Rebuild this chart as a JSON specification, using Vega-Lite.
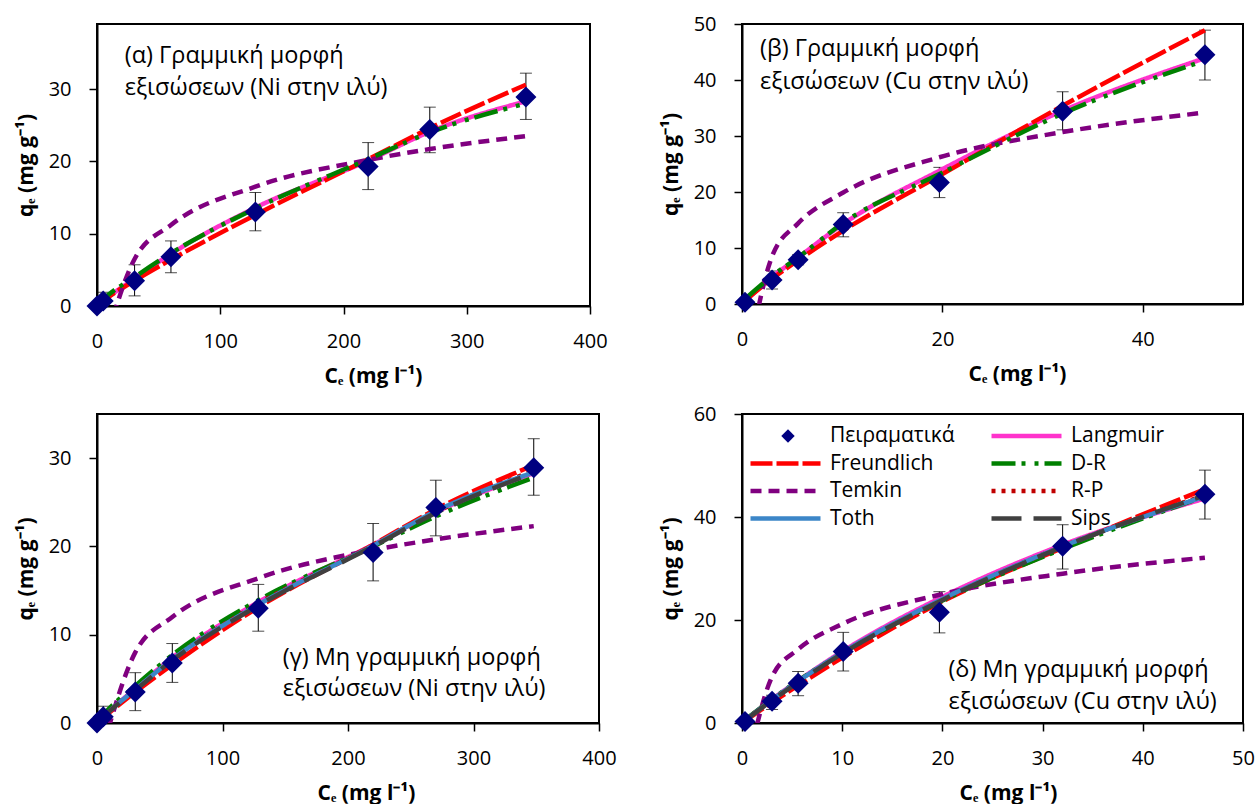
{
  "$schema": "https://vega.github.io/schema/vega-lite/v6.json",
  "background": "white",
  "padding": {"left": 14, "top": 13, "right": 0, "bottom": 0},
  "columns": 2,
  "align": "each",
  "spacing": {"row": 16, "column": 41},
  "resolve": {
    "scale": {"x": "independent", "y": "independent", "color": "independent", "strokeDash": "independent", "shape": "independent"},
    "legend": {"color": "independent", "strokeDash": "independent", "shape": "independent"}
  },
  "datasets": {
    "ni_exp": [
      {"C": 0, "q": 0, "lo": null, "hi": null, "series": "Πειραματικά"},
      {"C": 5, "q": 0.7, "lo": -0.5, "hi": 1.9, "series": "Πειραματικά"},
      {"C": 30.5, "q": 3.5, "lo": 1.4, "hi": 5.7, "series": "Πειραματικά"},
      {"C": 60, "q": 6.8, "lo": 4.6, "hi": 9.0, "series": "Πειραματικά"},
      {"C": 128.5, "q": 13.0, "lo": 10.4, "hi": 15.7, "series": "Πειραματικά"},
      {"C": 220, "q": 19.3, "lo": 16.1, "hi": 22.6, "series": "Πειραματικά"},
      {"C": 270, "q": 24.4, "lo": 21.2, "hi": 27.5, "series": "Πειραματικά"},
      {"C": 348, "q": 28.9, "lo": 25.8, "hi": 32.2, "series": "Πειραματικά"}
    ],
    "cu_exp_b": [
      {"C": 0.3, "q": 0.3, "lo": null, "hi": null, "series": "Πειραματικά"},
      {"C": 3.0, "q": 4.3, "lo": 2.7, "hi": 5.9, "series": "Πειραματικά"},
      {"C": 5.6, "q": 7.9, "lo": 7.0, "hi": 8.8, "series": "Πειραματικά"},
      {"C": 10.1, "q": 14.2, "lo": 12.0, "hi": 16.3, "series": "Πειραματικά"},
      {"C": 19.7, "q": 21.7, "lo": 19.0, "hi": 24.4, "series": "Πειραματικά"},
      {"C": 32.0, "q": 34.4, "lo": 31.1, "hi": 37.9, "series": "Πειραματικά"},
      {"C": 46.2, "q": 44.5, "lo": 40.0, "hi": 48.9, "series": "Πειραματικά"}
    ],
    "cu_exp_d": [
      {"C": 0.3, "q": 0.3, "lo": null, "hi": null, "series": "Πειραματικά"},
      {"C": 3.0, "q": 4.2, "lo": 2.6, "hi": 5.4, "series": "Πειραματικά"},
      {"C": 5.6, "q": 7.7, "lo": 5.3, "hi": 10.0, "series": "Πειραματικά"},
      {"C": 10.1, "q": 13.9, "lo": 10.1, "hi": 17.6, "series": "Πειραματικά"},
      {"C": 19.7, "q": 21.5, "lo": 17.5, "hi": 25.5, "series": "Πειραματικά"},
      {"C": 32.0, "q": 34.3, "lo": 29.9, "hi": 38.5, "series": "Πειραματικά"},
      {"C": 46.2, "q": 44.4, "lo": 39.6, "hi": 49.1, "series": "Πειραματικά"}
    ],
    "ni_lin": [
      {"model": "Langmuir", "C": 0, "q": 0}, {"model": "Langmuir", "C": 5, "q": 0.7}, {"model": "Langmuir", "C": 30.5, "q": 3.8}, {"model": "Langmuir", "C": 60, "q": 7.2}, {"model": "Langmuir", "C": 128.5, "q": 13.6}, {"model": "Langmuir", "C": 220, "q": 20.1}, {"model": "Langmuir", "C": 270, "q": 24.1}, {"model": "Langmuir", "C": 348, "q": 28.3},
      {"model": "Freundlich", "C": 0, "q": 0}, {"model": "Freundlich", "C": 5, "q": 0.7}, {"model": "Freundlich", "C": 30.5, "q": 3.5}, {"model": "Freundlich", "C": 60, "q": 6.4}, {"model": "Freundlich", "C": 128.5, "q": 12.6}, {"model": "Freundlich", "C": 220, "q": 20.3}, {"model": "Freundlich", "C": 270, "q": 24.6}, {"model": "Freundlich", "C": 348, "q": 30.6},
      {"model": "Temkin", "C": 5, "q": -6.1}, {"model": "Temkin", "C": 30.5, "q": 6.5}, {"model": "Temkin", "C": 60, "q": 11.2}, {"model": "Temkin", "C": 128.5, "q": 16.5}, {"model": "Temkin", "C": 220, "q": 20.2}, {"model": "Temkin", "C": 270, "q": 21.7}, {"model": "Temkin", "C": 348, "q": 23.5},
      {"model": "D-R", "C": 0, "q": 0}, {"model": "D-R", "C": 5, "q": 0.9}, {"model": "D-R", "C": 30.5, "q": 4.0}, {"model": "D-R", "C": 60, "q": 7.3}, {"model": "D-R", "C": 128.5, "q": 13.5}, {"model": "D-R", "C": 220, "q": 20.3}, {"model": "D-R", "C": 270, "q": 24.0}, {"model": "D-R", "C": 348, "q": 28.0}
    ],
    "cu_lin": [
      {"model": "Langmuir", "C": 0.3, "q": 0.5}, {"model": "Langmuir", "C": 3.0, "q": 4.8}, {"model": "Langmuir", "C": 5.6, "q": 8.3}, {"model": "Langmuir", "C": 10.1, "q": 14.3}, {"model": "Langmuir", "C": 19.7, "q": 23.8}, {"model": "Langmuir", "C": 32.0, "q": 34.5}, {"model": "Langmuir", "C": 46.2, "q": 43.9},
      {"model": "Freundlich", "C": 0.3, "q": 0.6}, {"model": "Freundlich", "C": 3.0, "q": 4.5}, {"model": "Freundlich", "C": 5.6, "q": 7.8}, {"model": "Freundlich", "C": 10.1, "q": 13.1}, {"model": "Freundlich", "C": 19.7, "q": 22.9}, {"model": "Freundlich", "C": 32.0, "q": 35.4}, {"model": "Freundlich", "C": 46.2, "q": 48.9},
      {"model": "Temkin", "C": 0.3, "q": -13.1}, {"model": "Temkin", "C": 3.0, "q": 8.5}, {"model": "Temkin", "C": 5.6, "q": 14.4}, {"model": "Temkin", "C": 10.1, "q": 19.9}, {"model": "Temkin", "C": 19.7, "q": 26.2}, {"model": "Temkin", "C": 32.0, "q": 30.7}, {"model": "Temkin", "C": 46.2, "q": 34.2},
      {"model": "D-R", "C": 0.3, "q": 0.9}, {"model": "D-R", "C": 3.0, "q": 5.0}, {"model": "D-R", "C": 5.6, "q": 8.3}, {"model": "D-R", "C": 10.1, "q": 14.5}, {"model": "D-R", "C": 19.7, "q": 23.2}, {"model": "D-R", "C": 32.0, "q": 34.0}, {"model": "D-R", "C": 46.2, "q": 43.5}
    ],
    "ni_nl": [
      {"model": "Langmuir", "C": 0, "q": 0}, {"model": "Langmuir", "C": 5, "q": 0.7}, {"model": "Langmuir", "C": 30.5, "q": 3.9}, {"model": "Langmuir", "C": 60, "q": 7.4}, {"model": "Langmuir", "C": 128.5, "q": 13.7}, {"model": "Langmuir", "C": 220, "q": 20.2}, {"model": "Langmuir", "C": 270, "q": 23.9}, {"model": "Langmuir", "C": 348, "q": 28.3},
      {"model": "Freundlich", "C": 0, "q": 0}, {"model": "Freundlich", "C": 5, "q": 0.6}, {"model": "Freundlich", "C": 30.5, "q": 3.5}, {"model": "Freundlich", "C": 60, "q": 6.6}, {"model": "Freundlich", "C": 128.5, "q": 13.1}, {"model": "Freundlich", "C": 220, "q": 20.2}, {"model": "Freundlich", "C": 270, "q": 24.2}, {"model": "Freundlich", "C": 348, "q": 29.2},
      {"model": "Temkin", "C": 5, "q": -2.6}, {"model": "Temkin", "C": 30.5, "q": 8.0}, {"model": "Temkin", "C": 60, "q": 12.0}, {"model": "Temkin", "C": 128.5, "q": 16.4}, {"model": "Temkin", "C": 220, "q": 19.6}, {"model": "Temkin", "C": 270, "q": 20.8}, {"model": "Temkin", "C": 348, "q": 22.3},
      {"model": "D-R", "C": 0, "q": 0}, {"model": "D-R", "C": 5, "q": 0.9}, {"model": "D-R", "C": 30.5, "q": 4.2}, {"model": "D-R", "C": 60, "q": 7.7}, {"model": "D-R", "C": 128.5, "q": 13.9}, {"model": "D-R", "C": 220, "q": 20.0}, {"model": "D-R", "C": 270, "q": 23.4}, {"model": "D-R", "C": 348, "q": 27.8},
      {"model": "R-P", "C": 0, "q": 0}, {"model": "R-P", "C": 5, "q": 0.7}, {"model": "R-P", "C": 30.5, "q": 3.8}, {"model": "R-P", "C": 60, "q": 7.2}, {"model": "R-P", "C": 128.5, "q": 13.5}, {"model": "R-P", "C": 220, "q": 20.1}, {"model": "R-P", "C": 270, "q": 23.9}, {"model": "R-P", "C": 348, "q": 28.6},
      {"model": "Toth", "C": 0, "q": 0}, {"model": "Toth", "C": 5, "q": 0.7}, {"model": "Toth", "C": 30.5, "q": 3.8}, {"model": "Toth", "C": 60, "q": 7.2}, {"model": "Toth", "C": 128.5, "q": 13.4}, {"model": "Toth", "C": 220, "q": 20.1}, {"model": "Toth", "C": 270, "q": 24.0}, {"model": "Toth", "C": 348, "q": 28.4},
      {"model": "Sips", "C": 0, "q": 0}, {"model": "Sips", "C": 5, "q": 0.7}, {"model": "Sips", "C": 30.5, "q": 3.7}, {"model": "Sips", "C": 60, "q": 7.1}, {"model": "Sips", "C": 128.5, "q": 13.3}, {"model": "Sips", "C": 220, "q": 20.0}, {"model": "Sips", "C": 270, "q": 23.8}, {"model": "Sips", "C": 348, "q": 28.3}
    ],
    "cu_nl": [
      {"model": "Langmuir", "C": 0.3, "q": 0.5}, {"model": "Langmuir", "C": 3.0, "q": 4.6}, {"model": "Langmuir", "C": 5.6, "q": 8.2}, {"model": "Langmuir", "C": 10.1, "q": 14.0}, {"model": "Langmuir", "C": 19.7, "q": 24.2}, {"model": "Langmuir", "C": 32.0, "q": 34.6}, {"model": "Langmuir", "C": 46.2, "q": 43.6},
      {"model": "Freundlich", "C": 0.3, "q": 0.4}, {"model": "Freundlich", "C": 3.0, "q": 4.0}, {"model": "Freundlich", "C": 5.6, "q": 7.3}, {"model": "Freundlich", "C": 10.1, "q": 12.8}, {"model": "Freundlich", "C": 19.7, "q": 23.3}, {"model": "Freundlich", "C": 32.0, "q": 34.0}, {"model": "Freundlich", "C": 46.2, "q": 45.4},
      {"model": "Temkin", "C": 0.3, "q": -10.5}, {"model": "Temkin", "C": 3.0, "q": 9.0}, {"model": "Temkin", "C": 5.6, "q": 14.3}, {"model": "Temkin", "C": 10.1, "q": 19.3}, {"model": "Temkin", "C": 19.7, "q": 24.9}, {"model": "Temkin", "C": 32.0, "q": 29.0}, {"model": "Temkin", "C": 46.2, "q": 32.1},
      {"model": "D-R", "C": 0.3, "q": 0.6}, {"model": "D-R", "C": 3.0, "q": 4.6}, {"model": "D-R", "C": 5.6, "q": 8.2}, {"model": "D-R", "C": 10.1, "q": 13.7}, {"model": "D-R", "C": 19.7, "q": 23.5}, {"model": "D-R", "C": 32.0, "q": 33.8}, {"model": "D-R", "C": 46.2, "q": 44.0},
      {"model": "R-P", "C": 0.3, "q": 0.5}, {"model": "R-P", "C": 3.0, "q": 4.5}, {"model": "R-P", "C": 5.6, "q": 8.0}, {"model": "R-P", "C": 10.1, "q": 13.7}, {"model": "R-P", "C": 19.7, "q": 23.7}, {"model": "R-P", "C": 32.0, "q": 34.3}, {"model": "R-P", "C": 46.2, "q": 44.2},
      {"model": "Toth", "C": 0.3, "q": 0.5}, {"model": "Toth", "C": 3.0, "q": 4.5}, {"model": "Toth", "C": 5.6, "q": 8.1}, {"model": "Toth", "C": 10.1, "q": 13.8}, {"model": "Toth", "C": 19.7, "q": 23.8}, {"model": "Toth", "C": 32.0, "q": 34.3}, {"model": "Toth", "C": 46.2, "q": 44.0},
      {"model": "Sips", "C": 0.3, "q": 0.5}, {"model": "Sips", "C": 3.0, "q": 4.4}, {"model": "Sips", "C": 5.6, "q": 7.9}, {"model": "Sips", "C": 10.1, "q": 13.6}, {"model": "Sips", "C": 19.7, "q": 23.6}, {"model": "Sips", "C": 32.0, "q": 34.2}, {"model": "Sips", "C": 46.2, "q": 44.2}
    ]
  },
  "concat": [
    {
      "width": 493, "height": 282,
      "layer": [
        {"data": {"name": "ni_exp"}, "mark": {"type": "rule", "color": "#000", "strokeWidth": 1, "clip": true},
         "encoding": {
           "x": {"field": "C", "type": "quantitative", "scale": {"domain": [0, 400], "nice": false, "zero": false}, "axis": {"values": [0, 100, 200, 300, 400], "title": "Cₑ (mg l⁻¹)", "titleX": 276}},
           "y": {"field": "lo", "type": "quantitative", "scale": {"domain": [0, 39], "nice": false, "zero": false}, "axis": {"values": [0, 10, 20, 30], "title": "qₑ (mg g⁻¹)"}},
           "y2": {"field": "hi"}}},
        {"data": {"name": "ni_exp"}, "mark": {"type": "tick", "orient": "horizontal", "color": "#000", "size": 12, "thickness": 1, "clip": true},
         "encoding": {
           "x": {"field": "C", "type": "quantitative", "scale": {"domain": [0, 400], "nice": false, "zero": false}, "axis": {"values": [0, 100, 200, 300, 400], "title": "Cₑ (mg l⁻¹)", "titleX": 276}},
           "y": {"field": "lo", "type": "quantitative", "scale": {"domain": [0, 39], "nice": false, "zero": false}, "axis": {"values": [0, 10, 20, 30], "title": "qₑ (mg g⁻¹)"}}}},
        {"data": {"name": "ni_exp"}, "mark": {"type": "tick", "orient": "horizontal", "color": "#000", "size": 12, "thickness": 1, "clip": true},
         "encoding": {
           "x": {"field": "C", "type": "quantitative", "scale": {"domain": [0, 400], "nice": false, "zero": false}, "axis": {"values": [0, 100, 200, 300, 400], "title": "Cₑ (mg l⁻¹)", "titleX": 276}},
           "y": {"field": "hi", "type": "quantitative", "scale": {"domain": [0, 39], "nice": false, "zero": false}, "axis": {"values": [0, 10, 20, 30], "title": "qₑ (mg g⁻¹)"}}}},
        {"data": {"name": "ni_lin"}, "mark": {"type": "line", "strokeWidth": 4.5, "interpolate": "monotone", "clip": true},
         "encoding": {
           "x": {"field": "C", "type": "quantitative", "scale": {"domain": [0, 400], "nice": false, "zero": false}, "axis": {"values": [0, 100, 200, 300, 400], "title": "Cₑ (mg l⁻¹)", "titleX": 276}},
           "y": {"field": "q", "type": "quantitative", "scale": {"domain": [0, 39], "nice": false, "zero": false}, "axis": {"values": [0, 10, 20, 30], "title": "qₑ (mg g⁻¹)"}},
           "color": {"field": "model", "type": "nominal", "legend": null, "scale": {"domain": ["Πειραματικά", "Freundlich", "Temkin", "Toth", "Langmuir", "D-R", "R-P", "Sips"], "range": ["transparent", "#FF0000", "#800080", "#3C86C8", "#FF33CC", "#008000", "#C00000", "#404040"]}},
           "strokeDash": {"field": "model", "type": "nominal", "legend": null, "scale": {"domain": ["Πειραματικά", "Freundlich", "Temkin", "Toth", "Langmuir", "D-R", "R-P", "Sips"], "range": [[1, 0], [22, 4], [11, 7], [1, 0], [1, 0], [24, 6, 4, 9, 4, 6], [4, 6], [30, 12]]}}
         }},
        {"data": {"name": "ni_exp"}, "mark": {"type": "point", "shape": "diamond", "filled": true, "size": 441, "color": "#000080", "opacity": 1},
         "encoding": {
           "x": {"field": "C", "type": "quantitative", "scale": {"domain": [0, 400], "nice": false, "zero": false}, "axis": {"values": [0, 100, 200, 300, 400], "title": "Cₑ (mg l⁻¹)", "titleX": 276}},
           "y": {"field": "q", "type": "quantitative", "scale": {"domain": [0, 39], "nice": false, "zero": false}, "axis": {"values": [0, 10, 20, 30], "title": "qₑ (mg g⁻¹)"}}}},
        {"data": {"values": [{"C": 22.5, "q": 34.6, "t": "(α) Γραμμική μορφή"}, {"C": 22.5, "q": 30.2, "t": "εξισώσεων (Ni στην ιλύ)"}]},
         "mark": {"type": "text", "align": "left", "baseline": "middle", "font": "Open Sans", "fontSize": 23.5, "color": "#000"},
         "encoding": {
           "x": {"field": "C", "type": "quantitative", "scale": {"domain": [0, 400], "nice": false, "zero": false}, "axis": {"values": [0, 100, 200, 300, 400], "title": "Cₑ (mg l⁻¹)", "titleX": 276}},
           "y": {"field": "q", "type": "quantitative", "scale": {"domain": [0, 39], "nice": false, "zero": false}, "axis": {"values": [0, 10, 20, 30], "title": "qₑ (mg g⁻¹)"}},
           "text": {"field": "t"}}}
      ]
    },
    {
      "width": 501, "height": 280,
      "layer": [
        {"data": {"name": "cu_exp_b"}, "mark": {"type": "rule", "color": "#000", "strokeWidth": 1, "clip": true},
         "encoding": {
           "x": {"field": "C", "type": "quantitative", "scale": {"domain": [0, 50], "nice": false, "zero": false}, "axis": {"values": [0, 20, 40], "title": "Cₑ (mg l⁻¹)", "titleX": 275}},
           "y": {"field": "lo", "type": "quantitative", "scale": {"domain": [0, 50], "nice": false, "zero": false}, "axis": {"values": [0, 10, 20, 30, 40, 50], "title": "qₑ (mg g⁻¹)"}},
           "y2": {"field": "hi"}}},
        {"data": {"name": "cu_exp_b"}, "mark": {"type": "tick", "orient": "horizontal", "color": "#000", "size": 12, "thickness": 1, "clip": true},
         "encoding": {
           "x": {"field": "C", "type": "quantitative", "scale": {"domain": [0, 50], "nice": false, "zero": false}, "axis": {"values": [0, 20, 40], "title": "Cₑ (mg l⁻¹)", "titleX": 275}},
           "y": {"field": "lo", "type": "quantitative", "scale": {"domain": [0, 50], "nice": false, "zero": false}, "axis": {"values": [0, 10, 20, 30, 40, 50], "title": "qₑ (mg g⁻¹)"}}}},
        {"data": {"name": "cu_exp_b"}, "mark": {"type": "tick", "orient": "horizontal", "color": "#000", "size": 12, "thickness": 1, "clip": true},
         "encoding": {
           "x": {"field": "C", "type": "quantitative", "scale": {"domain": [0, 50], "nice": false, "zero": false}, "axis": {"values": [0, 20, 40], "title": "Cₑ (mg l⁻¹)", "titleX": 275}},
           "y": {"field": "hi", "type": "quantitative", "scale": {"domain": [0, 50], "nice": false, "zero": false}, "axis": {"values": [0, 10, 20, 30, 40, 50], "title": "qₑ (mg g⁻¹)"}}}},
        {"data": {"name": "cu_lin"}, "mark": {"type": "line", "strokeWidth": 4.5, "interpolate": "monotone", "clip": true},
         "encoding": {
           "x": {"field": "C", "type": "quantitative", "scale": {"domain": [0, 50], "nice": false, "zero": false}, "axis": {"values": [0, 20, 40], "title": "Cₑ (mg l⁻¹)", "titleX": 275}},
           "y": {"field": "q", "type": "quantitative", "scale": {"domain": [0, 50], "nice": false, "zero": false}, "axis": {"values": [0, 10, 20, 30, 40, 50], "title": "qₑ (mg g⁻¹)"}},
           "color": {"field": "model", "type": "nominal", "legend": null, "scale": {"domain": ["Πειραματικά", "Freundlich", "Temkin", "Toth", "Langmuir", "D-R", "R-P", "Sips"], "range": ["transparent", "#FF0000", "#800080", "#3C86C8", "#FF33CC", "#008000", "#C00000", "#404040"]}},
           "strokeDash": {"field": "model", "type": "nominal", "legend": null, "scale": {"domain": ["Πειραματικά", "Freundlich", "Temkin", "Toth", "Langmuir", "D-R", "R-P", "Sips"], "range": [[1, 0], [22, 4], [11, 7], [1, 0], [1, 0], [24, 6, 4, 9, 4, 6], [4, 6], [30, 12]]}}
         }},
        {"data": {"name": "cu_exp_b"}, "mark": {"type": "point", "shape": "diamond", "filled": true, "size": 441, "color": "#000080", "opacity": 1},
         "encoding": {
           "x": {"field": "C", "type": "quantitative", "scale": {"domain": [0, 50], "nice": false, "zero": false}, "axis": {"values": [0, 20, 40], "title": "Cₑ (mg l⁻¹)", "titleX": 275}},
           "y": {"field": "q", "type": "quantitative", "scale": {"domain": [0, 50], "nice": false, "zero": false}, "axis": {"values": [0, 10, 20, 30, 40, 50], "title": "qₑ (mg g⁻¹)"}}}},
        {"data": {"values": [{"C": 1.8, "q": 45.5, "t": "(β) Γραμμική μορφή"}, {"C": 1.8, "q": 39.6, "t": "εξισώσεων (Cu στην ιλύ)"}]},
         "mark": {"type": "text", "align": "left", "baseline": "middle", "font": "Open Sans", "fontSize": 23.5, "color": "#000"},
         "encoding": {
           "x": {"field": "C", "type": "quantitative", "scale": {"domain": [0, 50], "nice": false, "zero": false}, "axis": {"values": [0, 20, 40], "title": "Cₑ (mg l⁻¹)", "titleX": 275}},
           "y": {"field": "q", "type": "quantitative", "scale": {"domain": [0, 50], "nice": false, "zero": false}, "axis": {"values": [0, 10, 20, 30, 40, 50], "title": "qₑ (mg g⁻¹)"}},
           "text": {"field": "t"}}}
      ]
    },
    {
      "width": 502, "height": 309,
      "layer": [
        {"data": {"name": "ni_exp"}, "mark": {"type": "rule", "color": "#000", "strokeWidth": 1, "clip": true},
         "encoding": {
           "x": {"field": "C", "type": "quantitative", "scale": {"domain": [0, 400], "nice": false, "zero": false}, "axis": {"values": [0, 100, 200, 300, 400], "title": "Cₑ (mg l⁻¹)", "titleX": 269}},
           "y": {"field": "lo", "type": "quantitative", "scale": {"domain": [0, 35], "nice": false, "zero": false}, "axis": {"values": [0, 10, 20, 30], "title": "qₑ (mg g⁻¹)"}},
           "y2": {"field": "hi"}}},
        {"data": {"name": "ni_exp"}, "mark": {"type": "tick", "orient": "horizontal", "color": "#000", "size": 12, "thickness": 1, "clip": true},
         "encoding": {
           "x": {"field": "C", "type": "quantitative", "scale": {"domain": [0, 400], "nice": false, "zero": false}, "axis": {"values": [0, 100, 200, 300, 400], "title": "Cₑ (mg l⁻¹)", "titleX": 269}},
           "y": {"field": "lo", "type": "quantitative", "scale": {"domain": [0, 35], "nice": false, "zero": false}, "axis": {"values": [0, 10, 20, 30], "title": "qₑ (mg g⁻¹)"}}}},
        {"data": {"name": "ni_exp"}, "mark": {"type": "tick", "orient": "horizontal", "color": "#000", "size": 12, "thickness": 1, "clip": true},
         "encoding": {
           "x": {"field": "C", "type": "quantitative", "scale": {"domain": [0, 400], "nice": false, "zero": false}, "axis": {"values": [0, 100, 200, 300, 400], "title": "Cₑ (mg l⁻¹)", "titleX": 269}},
           "y": {"field": "hi", "type": "quantitative", "scale": {"domain": [0, 35], "nice": false, "zero": false}, "axis": {"values": [0, 10, 20, 30], "title": "qₑ (mg g⁻¹)"}}}},
        {"data": {"name": "ni_nl"}, "mark": {"type": "line", "strokeWidth": 4.5, "interpolate": "monotone", "clip": true},
         "encoding": {
           "x": {"field": "C", "type": "quantitative", "scale": {"domain": [0, 400], "nice": false, "zero": false}, "axis": {"values": [0, 100, 200, 300, 400], "title": "Cₑ (mg l⁻¹)", "titleX": 269}},
           "y": {"field": "q", "type": "quantitative", "scale": {"domain": [0, 35], "nice": false, "zero": false}, "axis": {"values": [0, 10, 20, 30], "title": "qₑ (mg g⁻¹)"}},
           "color": {"field": "model", "type": "nominal", "legend": null, "scale": {"domain": ["Πειραματικά", "Freundlich", "Temkin", "Toth", "Langmuir", "D-R", "R-P", "Sips"], "range": ["transparent", "#FF0000", "#800080", "#3C86C8", "#FF33CC", "#008000", "#C00000", "#404040"]}},
           "strokeDash": {"field": "model", "type": "nominal", "legend": null, "scale": {"domain": ["Πειραματικά", "Freundlich", "Temkin", "Toth", "Langmuir", "D-R", "R-P", "Sips"], "range": [[1, 0], [22, 4], [11, 7], [1, 0], [1, 0], [24, 6, 4, 9, 4, 6], [4, 6], [30, 12]]}}
         }},
        {"data": {"name": "ni_exp"}, "mark": {"type": "point", "shape": "diamond", "filled": true, "size": 441, "color": "#000080", "opacity": 1},
         "encoding": {
           "x": {"field": "C", "type": "quantitative", "scale": {"domain": [0, 400], "nice": false, "zero": false}, "axis": {"values": [0, 100, 200, 300, 400], "title": "Cₑ (mg l⁻¹)", "titleX": 269}},
           "y": {"field": "q", "type": "quantitative", "scale": {"domain": [0, 35], "nice": false, "zero": false}, "axis": {"values": [0, 10, 20, 30], "title": "qₑ (mg g⁻¹)"}}}},
        {"data": {"values": [{"C": 148, "q": 7.4, "t": "(γ) Μη γραμμική μορφή"}, {"C": 148, "q": 3.8, "t": "εξισώσεων (Ni στην ιλύ)"}]},
         "mark": {"type": "text", "align": "left", "baseline": "middle", "font": "Open Sans", "fontSize": 23.5, "color": "#000"},
         "encoding": {
           "x": {"field": "C", "type": "quantitative", "scale": {"domain": [0, 400], "nice": false, "zero": false}, "axis": {"values": [0, 100, 200, 300, 400], "title": "Cₑ (mg l⁻¹)", "titleX": 269}},
           "y": {"field": "q", "type": "quantitative", "scale": {"domain": [0, 35], "nice": false, "zero": false}, "axis": {"values": [0, 10, 20, 30], "title": "qₑ (mg g⁻¹)"}},
           "text": {"field": "t"}}}
      ]
    },
    {
      "width": 501, "height": 309,
      "layer": [
        {"data": {"name": "cu_exp_d"}, "mark": {"type": "rule", "color": "#000", "strokeWidth": 1, "clip": true},
         "encoding": {
           "x": {"field": "C", "type": "quantitative", "scale": {"domain": [0, 50], "nice": false, "zero": false}, "axis": {"values": [0, 10, 20, 30, 40, 50], "title": "Cₑ (mg l⁻¹)", "titleX": 266}},
           "y": {"field": "lo", "type": "quantitative", "scale": {"domain": [0, 60], "nice": false, "zero": false}, "axis": {"values": [0, 20, 40, 60], "title": "qₑ (mg g⁻¹)"}},
           "y2": {"field": "hi"}}},
        {"data": {"name": "cu_exp_d"}, "mark": {"type": "tick", "orient": "horizontal", "color": "#000", "size": 12, "thickness": 1, "clip": true},
         "encoding": {
           "x": {"field": "C", "type": "quantitative", "scale": {"domain": [0, 50], "nice": false, "zero": false}, "axis": {"values": [0, 10, 20, 30, 40, 50], "title": "Cₑ (mg l⁻¹)", "titleX": 266}},
           "y": {"field": "lo", "type": "quantitative", "scale": {"domain": [0, 60], "nice": false, "zero": false}, "axis": {"values": [0, 20, 40, 60], "title": "qₑ (mg g⁻¹)"}}}},
        {"data": {"name": "cu_exp_d"}, "mark": {"type": "tick", "orient": "horizontal", "color": "#000", "size": 12, "thickness": 1, "clip": true},
         "encoding": {
           "x": {"field": "C", "type": "quantitative", "scale": {"domain": [0, 50], "nice": false, "zero": false}, "axis": {"values": [0, 10, 20, 30, 40, 50], "title": "Cₑ (mg l⁻¹)", "titleX": 266}},
           "y": {"field": "hi", "type": "quantitative", "scale": {"domain": [0, 60], "nice": false, "zero": false}, "axis": {"values": [0, 20, 40, 60], "title": "qₑ (mg g⁻¹)"}}}},
        {"data": {"name": "cu_nl"}, "mark": {"type": "line", "strokeWidth": 4.5, "interpolate": "monotone", "clip": true},
         "encoding": {
           "x": {"field": "C", "type": "quantitative", "scale": {"domain": [0, 50], "nice": false, "zero": false}, "axis": {"values": [0, 10, 20, 30, 40, 50], "title": "Cₑ (mg l⁻¹)", "titleX": 266}},
           "y": {"field": "q", "type": "quantitative", "scale": {"domain": [0, 60], "nice": false, "zero": false}, "axis": {"values": [0, 20, 40, 60], "title": "qₑ (mg g⁻¹)"}},
           "color": {"field": "model", "type": "nominal",
             "scale": {"domain": ["Πειραματικά", "Freundlich", "Temkin", "Toth", "Langmuir", "D-R", "R-P", "Sips"], "range": ["transparent", "#FF0000", "#800080", "#3C86C8", "#FF33CC", "#008000", "#C00000", "#404040"]},
             "legend": {"title": null, "orient": "none", "legendX": 6, "legendY": 12, "columns": 2, "columnPadding": 34, "rowPadding": 6.5, "symbolType": "stroke", "symbolSize": 4900, "symbolStrokeWidth": 4.5, "symbolOffset": 0, "labelOffset": 7, "labelFont": "Open Sans", "labelFontSize": 21, "labelColor": "#000", "clipHeight": 20, "padding": 0}},
           "strokeDash": {"field": "model", "type": "nominal",
             "scale": {"domain": ["Πειραματικά", "Freundlich", "Temkin", "Toth", "Langmuir", "D-R", "R-P", "Sips"], "range": [[1, 0], [22, 4], [11, 7], [1, 0], [1, 0], [24, 6, 4, 9, 4, 6], [4, 6], [30, 12]]},
             "legend": {"title": null, "orient": "none", "legendX": 6, "legendY": 12, "columns": 2, "columnPadding": 34, "rowPadding": 6.5, "symbolType": "stroke", "symbolSize": 4900, "symbolStrokeWidth": 4.5, "symbolOffset": 0, "labelOffset": 7, "labelFont": "Open Sans", "labelFontSize": 21, "labelColor": "#000", "clipHeight": 20, "padding": 0}}
         }},
        {"data": {"name": "cu_exp_d"}, "mark": {"type": "point", "filled": true, "size": 441, "color": "#000080", "opacity": 1},
         "encoding": {
           "x": {"field": "C", "type": "quantitative", "scale": {"domain": [0, 50], "nice": false, "zero": false}, "axis": {"values": [0, 10, 20, 30, 40, 50], "title": "Cₑ (mg l⁻¹)", "titleX": 266}},
           "y": {"field": "q", "type": "quantitative", "scale": {"domain": [0, 60], "nice": false, "zero": false}, "axis": {"values": [0, 20, 40, 60], "title": "qₑ (mg g⁻¹)"}},
           "shape": {"field": "series", "type": "nominal", "scale": {"domain": ["Πειραματικά"], "range": ["diamond"]},
             "legend": {"title": null, "orient": "none", "legendX": 39, "legendY": 12, "symbolSize": 180, "symbolStrokeWidth": 0, "symbolFillColor": "#000080", "clipHeight": 20, "labelExpr": "''", "padding": 0}}}},
        {"data": {"values": [{"C": 20.6, "q": 10.35, "t": "(δ) Μη γραμμική μορφή"}, {"C": 20.6, "q": 4.1, "t": "εξισώσεων (Cu στην ιλύ)"}]},
         "mark": {"type": "text", "align": "left", "baseline": "middle", "font": "Open Sans", "fontSize": 23.5, "color": "#000"},
         "encoding": {
           "x": {"field": "C", "type": "quantitative", "scale": {"domain": [0, 50], "nice": false, "zero": false}, "axis": {"values": [0, 10, 20, 30, 40, 50], "title": "Cₑ (mg l⁻¹)", "titleX": 266}},
           "y": {"field": "q", "type": "quantitative", "scale": {"domain": [0, 60], "nice": false, "zero": false}, "axis": {"values": [0, 20, 40, 60], "title": "qₑ (mg g⁻¹)"}},
           "text": {"field": "t"}}}
      ]
    }
  ],
  "config": {
    "font": "Open Sans",
    "view": {"stroke": "#000", "strokeWidth": 2},
    "axis": {"grid": false, "domainColor": "#000", "domainWidth": 2, "tickColor": "#000", "tickWidth": 1.5, "tickSize": 8, "labelFont": "Open Sans", "labelFontSize": 20, "labelColor": "#000", "titleFont": "Open Sans", "titleFontSize": 21, "titleFontWeight": "bold", "titleColor": "#000"},
    "axisX": {"labelPadding": 17, "titlePadding": 14, "labelFlush": false},
    "axisY": {"labelPadding": 18, "titlePadding": 12}
  }
}
